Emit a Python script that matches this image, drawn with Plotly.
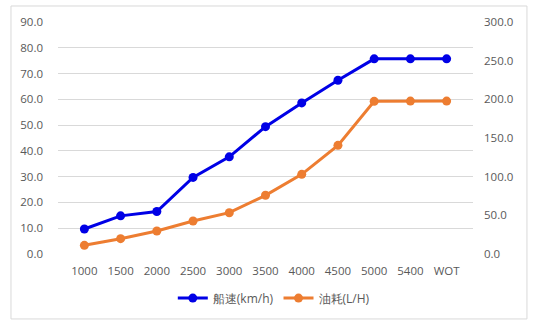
import plotly.graph_objects as go

categories = ["1000", "1500", "2000", "2500", "3000", "3500", "4000", "4500", "5000", "5400", "WOT"]
speed = [9.7, 14.8, 16.5, 29.7, 37.7, 49.4, 58.6, 67.4, 75.7, 75.7, 75.7]
fuel = [11.2, 19.8, 29.7, 42.7, 53.4, 75.9, 103.0, 140.5, 197.4, 197.7, 197.7]
left_ticks = [0, 10, 20, 30, 40, 50, 60, 70, 80, 90]
right_ticks = [0, 50, 100, 150, 200, 250, 300]

BLUE = "#0000E6"
ORANGE = "#ED7D31"
TXT = "#595959"
FONT = "Open Sans"

fig = go.Figure()
fig.add_trace(go.Scatter(x=categories, y=speed, name="船速(km/h)", mode="lines+markers",
                         line=dict(color=BLUE, width=3), marker=dict(size=9, color=BLUE),
                         yaxis="y"))
fig.add_trace(go.Scatter(x=categories, y=fuel, name="油耗(L/H)", mode="lines+markers",
                         line=dict(color=ORANGE, width=3), marker=dict(size=9, color=ORANGE),
                         yaxis="y2"))

fig.update_layout(
    width=540, height=330,
    margin=dict(l=58, r=67, t=22, b=76),
    paper_bgcolor="white", plot_bgcolor="white",
    font=dict(family=FONT, size=11, color=TXT),
    showlegend=True,
    legend=dict(orientation="h", x=0.52, xanchor="center", y=-0.19, yanchor="middle",
                font=dict(size=12, color=TXT), itemwidth=30, tracegroupgap=0),
    xaxis=dict(type="category", showgrid=False, zeroline=False, showline=False,
               ticks="", ticklabelstandoff=8, tickfont=dict(size=11.5, color=TXT)),
    yaxis=dict(range=[0, 90], tickvals=left_ticks, ticktext=[f"{v:.1f}" for v in left_ticks],
               showgrid=True, gridcolor="#D9D9D9", gridwidth=1, zeroline=False, showline=False,
               ticks="", ticklabelstandoff=14, tickfont=dict(size=11.5, color=TXT)),
    yaxis2=dict(range=[0, 300], tickvals=right_ticks, ticktext=[f"{v:.1f}" for v in right_ticks],
                overlaying="y", side="right", showgrid=False, zeroline=False, showline=False,
                ticks="", ticklabelstandoff=10, tickfont=dict(size=11.5, color=TXT)),
    shapes=[dict(type="rect", xref="paper", yref="paper", x0=-0.1133, x1=1.130,
                 y0=-0.280, y1=1.069, line=dict(color="#D9D9D9", width=1), layer="below")],
)

fig.write_html("out.html")
